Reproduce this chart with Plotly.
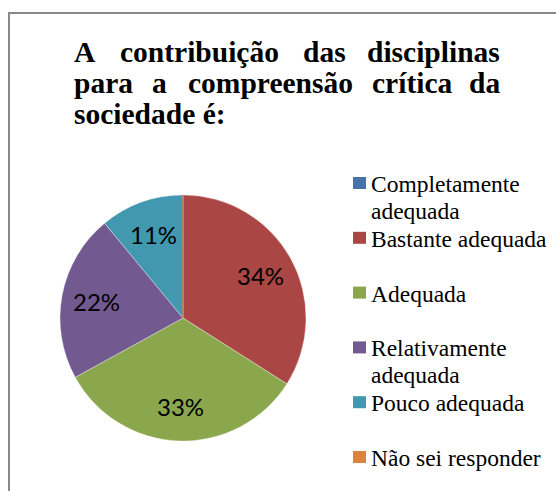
import math
import plotly.graph_objects as go

# Survey answers (share of respondents, %)
categories = [
    "Completamente adequada",
    "Bastante adequada",
    "Adequada",
    "Relativamente adequada",
    "Pouco adequada",
    "Não sei responder",
]
shares = [0, 34, 33, 22, 11, 0]
colors = ["#4672A8", "#AA4643", "#8AA74E", "#72598F", "#4198AF", "#DB843D"]

# How each legend label wraps
legend_lines = {
    "Completamente adequada": ["Completamente", "adequada"],
    "Relativamente adequada": ["Relativamente", "adequada"],
}

title_lines = [
    ["A", "contribuição", "das", "disciplinas"],
    ["para", "a", "compreensão", "crítica", "da"],
    ["sociedade é:"],
]

W, H = 556, 491


def px(x):
    return x / W


def py(y):
    return 1 - y / H


SERIF = "Liberation Serif"
SANS = "Lato"

fig = go.Figure()

# Pie: centre (183, 318) px, radius 123 px
cx, cy, r = 183, 318, 123
fig.add_trace(go.Pie(
    labels=categories,
    values=shares,
    marker=dict(colors=colors, line=dict(color="rgba(255,255,255,0.5)", width=0.7)),
    sort=False,
    direction="clockwise",
    rotation=0,
    textinfo="none",
    domain=dict(x=[px(cx - r), px(cx + r)], y=[py(cy + r), py(cy - r)]),
    showlegend=False,
    hoverinfo="label+percent",
))

annotations = []
shapes = []

# Percentage labels at each slice's mid-angle, 0.72 of the radius out;
# empty slices collapse to a thin edge in their own colour
total = sum(shares)
cum = 0
for v, col in zip(shares, colors):
    if v > 0:
        mid = 2 * math.pi * (cum + v / 2) / total
        lx = cx + 0.72 * r * math.sin(mid)
        ly = cy - 0.72 * r * math.cos(mid)
        annotations.append(dict(
            text=f"{round(100 * v / total)}%", x=px(lx), y=py(ly),
            xref="paper", yref="paper", xanchor="center", yanchor="middle",
            showarrow=False, font=dict(family=SANS, size=24, color="black"),
        ))
    else:
        a = 2 * math.pi * cum / total
        shapes.append(dict(
            type="line", xref="paper", yref="paper",
            x0=px(cx), y0=py(cy),
            x1=px(cx + r * math.sin(a)), y1=py(cy - r * math.cos(a)),
            line=dict(color=col, width=1.2),
        ))
    cum += v

# Justified title: word left edges per line, last word of a full line flush right
title_word_x = [
    [73, 119, 302, None],
    [73, 151, 187, 371, None],
    [73],
]
title_right = 502
title_center_y = [52, 83, 114]
for words, xs, yc in zip(title_lines, title_word_x, title_center_y):
    for w, x in zip(words, xs):
        if x is None:
            ax, anchor = px(title_right), "right"
        else:
            ax, anchor = px(x - 1), "left"
        annotations.append(dict(
            text=f"<b>{w}</b>", x=ax, y=py(yc), xref="paper", yref="paper",
            xanchor=anchor, yanchor="middle", showarrow=False,
            font=dict(family=SERIF, size=29.5, color="black"),
        ))

# Legend drawn as coloured squares with serif labels
leg_top, leg_step, line_step = 177, 54.8, 27
for i, (cat, col) in enumerate(zip(categories, colors)):
    top = leg_top + i * leg_step
    shapes.append(dict(
        type="rect", xref="paper", yref="paper",
        x0=px(353), x1=px(366), y0=py(top + 12), y1=py(top),
        fillcolor=col, line=dict(width=0),
    ))
    for k, line in enumerate(legend_lines.get(cat, [cat])):
        annotations.append(dict(
            text=line, x=px(369), y=py(top - 8 + k * line_step),
            xref="paper", yref="paper", xanchor="left", yanchor="top",
            align="left", showarrow=False,
            font=dict(family=SERIF, size=23.5, color="black"),
        ))

# Chart-area frame
shapes.append(dict(
    type="rect", xref="paper", yref="paper",
    x0=px(9), x1=1.05, y0=-0.05, y1=py(13),
    line=dict(color="#888888", width=2), fillcolor="rgba(0,0,0,0)",
))

fig.update_layout(
    width=W, height=H,
    margin=dict(l=0, r=0, t=0, b=0),
    paper_bgcolor="white",
    plot_bgcolor="white",
    annotations=annotations,
    shapes=shapes,
)

fig.write_html("out.html")
